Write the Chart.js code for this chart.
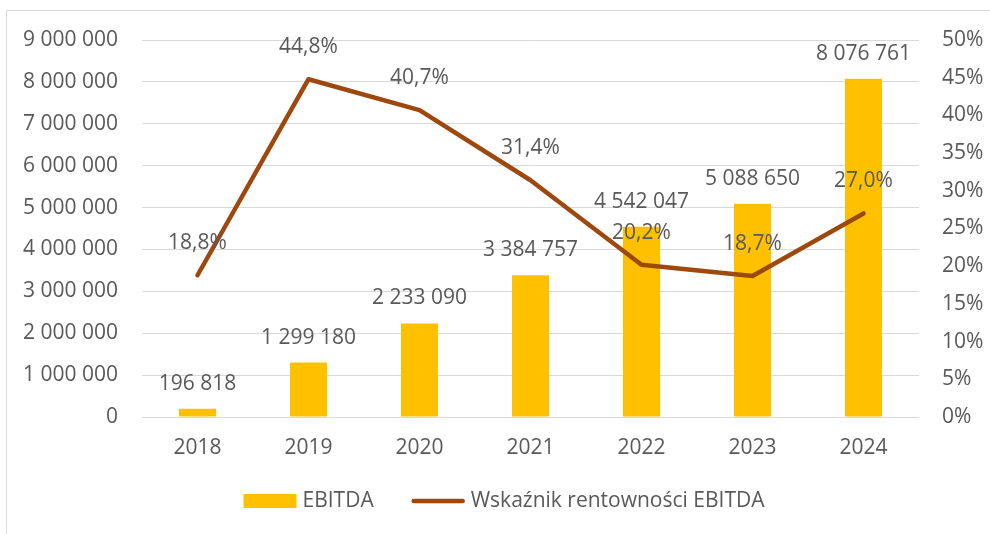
<!DOCTYPE html>
<html><head><meta charset="utf-8">
<script src="https://cdn.jsdelivr.net/npm/chart.js@4"></script>
<style>html,body{margin:0;padding:0;background:#fff;overflow:hidden}</style>
</head><body><canvas id="c" width="990" height="534"></canvas>
<script>
const categories = ['2018','2019','2020','2021','2022','2023','2024'];
const ebitda = [196818, 1299180, 2233090, 3384757, 4542047, 5088650, 8076761];
const margin = [18.8, 44.8, 40.7, 31.4, 20.2, 18.7, 27.0];
const seriesNames = ['EBITDA', 'Wskaźnik rentowności EBITDA'];
const leftAxis = {min: 0, max: 9000000, step: 1000000};
const rightAxis = {min: 0, max: 50, step: 5};

const FONT = '"Open Sans", "Liberation Sans", sans-serif';
const TXT = '#595959';
const BAR = '#FFC000';
const LINE = '#9E480E';
const GRID = '#D9D9D9';

function fmtInt(n){ return String(Math.round(n)).replace(/\B(?=(\d{3})+(?!\d))/g, ' '); }
function fmtPct(v){ return v.toFixed(1).replace('.', ',') + '%'; }

const framePlugin = {
  id: 'frame',
  beforeDraw(chart){
    const ctx = chart.ctx;
    ctx.save();
    ctx.fillStyle = '#fff';
    ctx.fillRect(0, 0, chart.width, chart.height);
    ctx.strokeStyle = GRID;
    ctx.lineWidth = 1;
    ctx.beginPath();
    ctx.moveTo(6.5, chart.height);
    ctx.lineTo(6.5, 10.5);
    ctx.lineTo(chart.width, 10.5);
    ctx.stroke();
    ctx.restore();
  }
};

const labelPlugin = {
  id: 'valueLabels',
  afterDatasetsDraw(chart){
    const ctx = chart.ctx;
    ctx.save();
    ctx.font = '21px ' + FONT;
    ctx.fillStyle = TXT;
    ctx.textAlign = 'center';
    ctx.textBaseline = 'middle';
    const barMeta = chart.getDatasetMeta(0);
    barMeta.data.forEach((el, i) => {
      ctx.fillText(fmtInt(ebitda[i]), el.x, el.y - 25);
    });
    const lineMeta = chart.getDatasetMeta(1);
    lineMeta.data.forEach((el, i) => {
      ctx.fillText(fmtPct(margin[i]), el.x, el.y - 32);
    });
    ctx.restore();
  }
};

const legendPlugin = {
  id: 'customLegend',
  afterDraw(chart){
    const ctx = chart.ctx;
    ctx.save();
    ctx.font = '21px ' + FONT;
    ctx.fillStyle = TXT;
    ctx.textBaseline = 'middle';
    ctx.textAlign = 'left';
    const y = 501;
    const sw = 53, gapT = 6, gapItem = 38;
    const w1 = sw + gapT + ctx.measureText(seriesNames[0]).width;
    const w2 = sw + gapT + ctx.measureText(seriesNames[1]).width;
    const total = w1 + gapItem + w2;
    let x = 504 - total / 2;
    ctx.fillStyle = BAR;
    ctx.fillRect(x, y - 7, sw, 14);
    ctx.fillStyle = TXT;
    ctx.fillText(seriesNames[0], x + sw + gapT, y);
    x += w1 + gapItem;
    ctx.strokeStyle = LINE;
    ctx.lineWidth = 4.5;
    ctx.lineCap = 'round';
    ctx.beginPath();
    ctx.moveTo(x + 2, y);
    ctx.lineTo(x + sw - 2, y);
    ctx.stroke();
    ctx.fillText(seriesNames[1], x + sw + gapT, y);
    ctx.restore();
  }
};

new Chart(document.getElementById('c'), {
  data: {
    labels: categories,
    datasets: [
      {
        type: 'bar', label: seriesNames[0], data: ebitda, yAxisID: 'y',
        backgroundColor: BAR, borderWidth: 0,
        categoryPercentage: 0.667, barPercentage: 0.5, order: 2
      },
      {
        type: 'line', label: seriesNames[1], data: margin, yAxisID: 'y1',
        borderColor: LINE, backgroundColor: LINE, borderWidth: 4.5,
        borderCapStyle: 'round', borderJoinStyle: 'round',
        pointRadius: 0, pointHoverRadius: 0, tension: 0, fill: false, order: 1
      }
    ]
  },
  options: {
    responsive: false,
    animation: false,
    devicePixelRatio: 1,
    layout: { padding: { top: 40, bottom: 67, left: 0, right: 0 } },
    plugins: { legend: { display: false }, tooltip: { enabled: false } },
    scales: {
      x: {
        grid: { display: false, drawTicks: false },
        border: { display: false },
        ticks: { color: TXT, font: { family: FONT, size: 21 }, padding: 18, maxRotation: 0 },
        afterFit(s){ s.height = 50; }
      },
      y: {
        position: 'left',
        min: leftAxis.min, max: leftAxis.max,
        grid: { color: GRID, lineWidth: 1, drawTicks: false },
        border: { display: false },
        ticks: {
          stepSize: leftAxis.step, color: TXT, padding: 24,
          font: { family: FONT, size: 21 },
          callback: v => fmtInt(v)
        },
        afterFit(s){ s.width = 142; }
      },
      y1: {
        position: 'right',
        min: rightAxis.min, max: rightAxis.max,
        grid: { display: false, drawTicks: false },
        border: { display: false },
        ticks: {
          stepSize: rightAxis.step, color: TXT, padding: 23,
          font: { family: FONT, size: 21 },
          callback: v => Math.round(v) + '%'
        },
        afterFit(s){ s.width = 71; }
      }
    }
  },
  plugins: [framePlugin, labelPlugin, legendPlugin]
});
</script>
</body></html>
